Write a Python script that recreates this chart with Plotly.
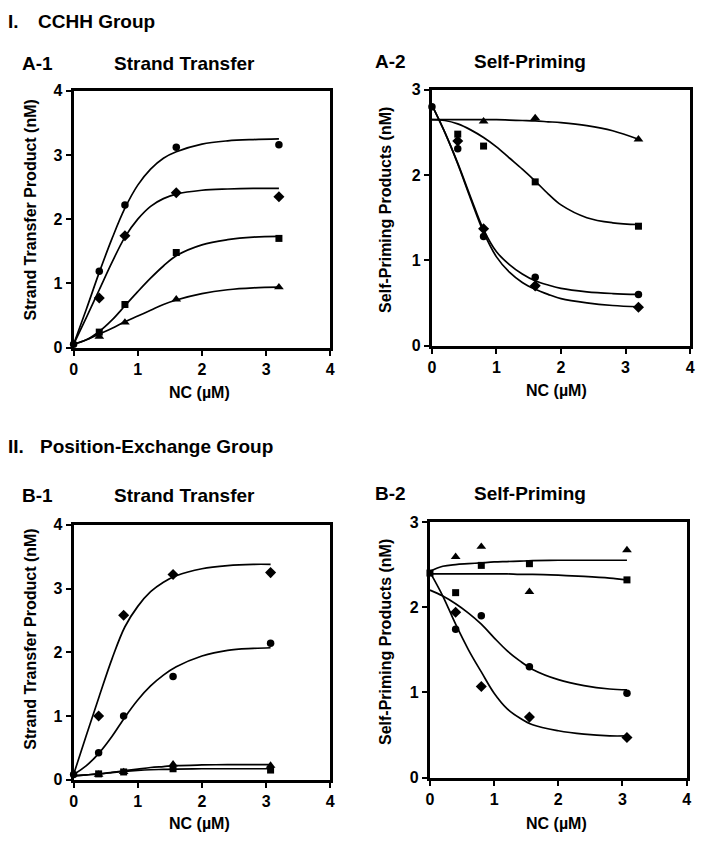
import plotly.graph_objects as go

W, H = 702, 842

# ---------------- DATA ----------------
# A-1 Strand Transfer (CCHH)
a1_x = [0.4, 0.8, 1.6, 3.2]
a1_circle = [1.19, 2.22, 3.12, 3.16]
a1_diamond = [0.77, 1.74, 2.41, 2.35]
a1_square = [0.24, 0.67, 1.48, 1.70]
a1_triangle = [0.17, 0.39, 0.75, 0.94]
a1_origin = 0.05
a1_fit_x = [0, 0.2, 0.4, 0.6, 0.8, 1.0, 1.2, 1.4, 1.6, 2.0, 2.4, 2.8, 3.2]
a1_fit_circle = [0.05, 0.60, 1.17, 1.70, 2.17, 2.53, 2.78, 2.95, 3.05, 3.17, 3.22, 3.24, 3.25]
a1_fit_diamond = [0.05, 0.47, 0.90, 1.33, 1.72, 2.00, 2.20, 2.32, 2.39, 2.45, 2.47, 2.48, 2.48]
a1_fit_square = [0.05, 0.12, 0.25, 0.43, 0.65, 0.87, 1.08, 1.27, 1.43, 1.60, 1.68, 1.72, 1.73]
a1_fit_triangle = [0.05, 0.12, 0.21, 0.30, 0.40, 0.49, 0.58, 0.67, 0.74, 0.84, 0.90, 0.93, 0.94]

# A-2 Self-Priming (CCHH)
a2_x = [0.4, 0.8, 1.6, 3.2]
a2_circle = [2.31, 1.28, 0.80, 0.60]
a2_diamond = [2.40, 1.37, 0.70, 0.45]
a2_square = [2.48, 2.34, 1.92, 1.40]
a2_tri_x = [0.8, 1.6, 3.2]
a2_triangle = [2.63, 2.67, 2.42]
a2_origin = 2.80
a2_fit_x = [0, 0.2, 0.4, 0.6, 0.8, 1.0, 1.2, 1.4, 1.6, 1.8, 2.0, 2.4, 2.8, 3.2]
a2_fit_circle = [2.82, 2.50, 2.14, 1.74, 1.36, 1.10, 0.95, 0.84, 0.76, 0.71, 0.67, 0.63, 0.61, 0.60]
a2_fit_diamond = [2.82, 2.50, 2.13, 1.72, 1.33, 1.04, 0.86, 0.74, 0.66, 0.60, 0.55, 0.50, 0.47, 0.455]
a2_fit_square = [2.65, 2.64, 2.60, 2.53, 2.44, 2.33, 2.20, 2.07, 1.93, 1.78, 1.65, 1.50, 1.44, 1.42]
a2_fit_triangle = [2.65, 2.65, 2.65, 2.65, 2.65, 2.65, 2.645, 2.64, 2.635, 2.625, 2.615, 2.58, 2.52, 2.42]

# B-1 Strand Transfer (Position-Exchange)
b1_x = [0.39, 0.78, 1.55, 3.07]
b1_diamond = [1.00, 2.58, 3.22, 3.25]
b1_circle = [0.42, 1.00, 1.62, 2.14]
b1_triangle = [0.08, 0.12, 0.24, 0.22]
b1_square = [0.09, 0.12, 0.17, 0.15]
b1_origin = 0.08
b1_fit_x = [0, 0.2, 0.4, 0.6, 0.8, 1.0, 1.2, 1.4, 1.6, 2.0, 2.4, 2.8, 3.07]
b1_fit_diamond = [0.08, 0.70, 1.31, 1.90, 2.40, 2.72, 2.95, 3.10, 3.20, 3.31, 3.36, 3.38, 3.38]
b1_fit_circle = [0.08, 0.22, 0.42, 0.68, 0.98, 1.25, 1.47, 1.64, 1.77, 1.94, 2.03, 2.06, 2.07]
b1_fit_triangle = [0.06, 0.075, 0.09, 0.115, 0.14, 0.165, 0.19, 0.205, 0.22, 0.23, 0.235, 0.235, 0.235]
b1_fit_square = [0.06, 0.075, 0.09, 0.11, 0.13, 0.145, 0.155, 0.16, 0.165, 0.17, 0.17, 0.17, 0.17]

# B-2 Self-Priming (Position-Exchange)
b2_x = [0.4, 0.8, 1.55, 3.07]
b2_triangle = [2.59, 2.71, 2.18, 2.67]
b2_square = [2.17, 2.49, 2.51, 2.32]
b2_circle = [1.74, 1.90, 1.30, 0.99]
b2_diamond = [1.94, 1.07, 0.71, 0.47]
b2_origin = 2.40
b2_fit_x = [0, 0.2, 0.4, 0.6, 0.8, 1.0, 1.2, 1.4, 1.6, 2.0, 2.4, 2.8, 3.07]
b2_fit_triangle = [2.42, 2.48, 2.50, 2.51, 2.52, 2.53, 2.535, 2.54, 2.545, 2.55, 2.55, 2.55, 2.55]
b2_fit_square = [2.39, 2.39, 2.39, 2.39, 2.39, 2.39, 2.39, 2.385, 2.385, 2.375, 2.36, 2.34, 2.32]
b2_fit_circle = [2.20, 2.13, 2.04, 1.93, 1.80, 1.64, 1.49, 1.37, 1.27, 1.15, 1.08, 1.04, 1.03]
b2_fit_diamond = [2.41, 2.13, 1.80, 1.50, 1.24, 0.99, 0.81, 0.70, 0.62, 0.55, 0.51, 0.49, 0.49]

x_ticks = [0, 1, 2, 3, 4]

# ---------------- FIGURE ----------------
FONT = "Liberation Sans"
fig = go.Figure()

def px_dom_x(a, b):
    return [a / W, b / W]

def px_dom_y(top, bottom):
    return [1 - bottom / H, 1 - top / H]

panels = {
    "1": dict(xd=px_dom_x(70.5, 330.5), yd=px_dom_y(84.5, 346.5), yr=4),
    "2": dict(xd=px_dom_x(433.5, 695.0), yd=px_dom_y(83.5, 344.5), yr=3),
    "3": dict(xd=px_dom_x(70.5, 330.5), yd=px_dom_y(527.5, 787.5), yr=4),
    "4": dict(xd=px_dom_x(431.5, 691.5), yd=px_dom_y(524.5, 785.5), yr=3),
}

sym_size = {"circle": 7.5, "diamond": 8.5, "square": 7, "triangle-up": 8.5}

def add_fit(n, xs, ys):
    ax = "" if n == "1" else n
    fig.add_trace(go.Scatter(x=xs, y=ys, mode="lines",
                             line=dict(color="black", width=1.7, shape="spline", smoothing=1.0),
                             xaxis="x" + ax, yaxis="y" + ax, showlegend=False, hoverinfo="skip"))

def add_pts(n, xs, ys, sym):
    ax = "" if n == "1" else n
    fig.add_trace(go.Scatter(x=xs, y=ys, mode="markers",
                             marker=dict(symbol=sym, color="black", size=sym_size[sym]),
                             xaxis="x" + ax, yaxis="y" + ax, showlegend=False, cliponaxis=False))

# A-1
for ys in [a1_fit_circle, a1_fit_diamond, a1_fit_square, a1_fit_triangle]:
    add_fit("1", a1_fit_x, ys)
add_pts("1", a1_x, a1_circle, "circle")
add_pts("1", a1_x, a1_diamond, "diamond")
add_pts("1", a1_x, a1_square, "square")
add_pts("1", a1_x, a1_triangle, "triangle-up")
add_pts("1", [0], [a1_origin], "circle")

# A-2
for ys in [a2_fit_circle, a2_fit_diamond, a2_fit_square, a2_fit_triangle]:
    add_fit("2", a2_fit_x, ys)
add_pts("2", a2_x, a2_circle, "circle")
add_pts("2", a2_x, a2_diamond, "diamond")
add_pts("2", a2_x, a2_square, "square")
add_pts("2", a2_tri_x, a2_triangle, "triangle-up")
add_pts("2", [0], [a2_origin], "circle")

# B-1
for ys in [b1_fit_diamond, b1_fit_circle, b1_fit_triangle, b1_fit_square]:
    add_fit("3", b1_fit_x, ys)
add_pts("3", b1_x, b1_diamond, "diamond")
add_pts("3", b1_x, b1_circle, "circle")
add_pts("3", b1_x, b1_triangle, "triangle-up")
add_pts("3", b1_x, b1_square, "square")
add_pts("3", [0], [b1_origin], "circle")

# B-2
for ys in [b2_fit_triangle, b2_fit_square, b2_fit_circle, b2_fit_diamond]:
    add_fit("4", b2_fit_x, ys)
add_pts("4", b2_x, b2_triangle, "triangle-up")
add_pts("4", b2_x, b2_square, "square")
add_pts("4", b2_x, b2_circle, "circle")
add_pts("4", b2_x, b2_diamond, "diamond")
add_pts("4", [0], [b2_origin], "square")

tickfont = dict(family=FONT, size=16, color="black", weight="bold")
layout = dict(
    width=W, height=H, margin=dict(l=0, r=0, t=0, b=0),
    paper_bgcolor="white", plot_bgcolor="white", showlegend=False,
)
for n, p in panels.items():
    ax = "" if n == "1" else n
    layout["xaxis" + ax] = dict(domain=p["xd"], range=[0, 4], tickvals=x_ticks,
                                showgrid=False, zeroline=False, showline=True, linecolor="black",
                                linewidth=3, mirror=True, ticks="outside", ticklen=5, tickwidth=2,
                                tickcolor="black", tickfont=tickfont, anchor="y" + ax, fixedrange=True)
    layout["yaxis" + ax] = dict(domain=p["yd"], range=[0, p["yr"]], tickvals=list(range(p["yr"] + 1)),
                                showgrid=False, zeroline=False, showline=True, linecolor="black",
                                linewidth=3, mirror=True, ticks="outside", ticklen=5, tickwidth=2,
                                tickcolor="black", tickfont=tickfont, anchor="x" + ax, fixedrange=True)
fig.update_layout(**layout)

def ann(text, xpx, ypx, size, xanchor="center", angle=0):
    fig.add_annotation(text=text, x=xpx / W, y=1 - ypx / H, xref="paper", yref="paper",
                       showarrow=False, xanchor=xanchor, yanchor="middle", textangle=angle,
                       font=dict(family=FONT, size=size, color="black", weight="bold"))

# group headings
ann("I.", 2, 14, 19, "left")
ann("CCHH Group", 32, 14, 19, "left")
ann("II.", 2, 448, 19, "left")
ann("Position-Exchange Group", 34, 448, 19, "left")

# panel labels and titles
ann("A-1", 16, 57, 19, "left")
ann("Strand Transfer", 183, 57, 19)
ann("A-2", 374, 55, 19, "left")
ann("Self-Priming", 533, 55, 19)
ann("B-1", 16, 498, 19, "left")
ann("Strand Transfer", 183, 498, 19)
ann("B-2", 374, 496, 19, "left")
ann("Self-Priming", 533, 496, 19)

# axis titles
ann("NC (µM)", 198, 392, 16)
ann("NC (µM)", 560, 390, 16)
ann("NC (µM)", 198, 832, 16)
ann("NC (µM)", 560, 832, 16)
ann("Strand Transfer Product (nM)", 27, 206, 16, angle=-90)
ann("Self-Priming Products (nM)", 387, 206, 16, angle=-90)
ann("Strand Transfer Product (nM)", 27, 644, 16, angle=-90)
ann("Self-Priming Products (nM)", 387, 647, 16, angle=-90)

fig.write_html("out.html", config={"displayModeBar": False},
               post_script="document.body.style.margin='0';document.body.style.overflow='hidden';")
